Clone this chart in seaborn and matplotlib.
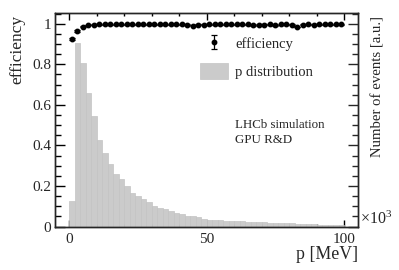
import numpy as np
import pandas as pd
import matplotlib
matplotlib.use("Agg")
import matplotlib.pyplot as plt
import seaborn as sns
from matplotlib.ticker import MultipleLocator

# ---- data ----
bin_edges = list(range(0, 102, 2))
bin_centers = [e + 1 for e in bin_edges[:-1]]
p_distribution = [
    0.125, 0.904, 0.806, 0.658, 0.543, 0.428, 0.364, 0.306, 0.259, 0.233,
    0.200, 0.167, 0.150, 0.134, 0.121, 0.101, 0.090, 0.085, 0.078, 0.068,
    0.062, 0.052, 0.052, 0.048, 0.038, 0.034, 0.032, 0.031, 0.029, 0.028,
    0.027, 0.025, 0.024, 0.022, 0.021, 0.020, 0.019, 0.018, 0.017, 0.016,
    0.015, 0.014, 0.013, 0.012, 0.011, 0.010, 0.010, 0.009, 0.008, 0.007,
]
efficiency = [
    0.924, 0.964, 0.986, 0.994, 0.996, 0.997, 0.997, 0.997, 0.997, 0.997,
    0.997, 0.997, 0.997, 0.997, 0.997, 0.997, 0.997, 0.997, 0.997, 0.997,
    0.997, 0.996, 0.990, 0.995, 0.996, 0.997, 0.997, 0.997, 0.997, 0.998,
    0.997, 0.998, 0.998, 0.992, 0.996, 0.995, 0.997, 0.992, 0.997, 0.998,
    0.996, 0.984, 0.996, 0.997, 0.996, 0.998, 0.998, 0.998, 0.998, 0.998,
]
eff_err = [0.006, 0.004, 0.002, 0.002] + [0.002] * 46

xticks_major = [0, 50, 100]
yticks_major = [0, 0.2, 0.4, 0.6, 0.8, 1]

df_hist = pd.DataFrame({"p": bin_centers, "w": p_distribution})

# ---- style ----
sns.set_style("ticks")
plt.rcParams["font.family"] = ["Liberation Serif", "DejaVu Serif"]
plt.rcParams["mathtext.fontset"] = "custom"
plt.rcParams["mathtext.rm"] = "Liberation Serif"
plt.rcParams["mathtext.it"] = "Liberation Serif:italic"
plt.rcParams["axes.linewidth"] = 1.0

fig = plt.figure(figsize=(3.99, 2.70), dpi=100)
ax = fig.add_axes([0.139, 0.161, 0.758, 0.791])

sns.histplot(data=df_hist, x="p", weights="w", bins=bin_edges, ax=ax,
             color="#cbcbcb", edgecolor="#c3c3c3", linewidth=0.5,
             alpha=1.0, label="p distribution")
eb = ax.errorbar(bin_centers, efficiency, yerr=eff_err, fmt="o", ms=3.2,
                 color="black", ecolor="black", elinewidth=0.9, capsize=2,
                 capthick=0.9, label="efficiency")

ax.set_xlim(-5, 105)
ax.set_ylim(0, 1.053)
ax.set_xticks(xticks_major)
ax.set_xticklabels([str(v) for v in xticks_major])
ax.set_yticks(yticks_major)
ax.set_yticklabels(["0", "0.2", "0.4", "0.6", "0.8", "1"])
ax.xaxis.set_minor_locator(MultipleLocator(10))
ax.yaxis.set_minor_locator(MultipleLocator(0.05))
ax.tick_params(axis="both", which="both", direction="in", top=True,
               labelsize=11, width=1.0, color="black")
ax.tick_params(axis="y", which="major", length=7, pad=3)
ax.tick_params(axis="y", which="minor", length=4)
ax.tick_params(axis="x", which="major", length=4.7, pad=5)
ax.tick_params(axis="x", which="minor", length=2.3)
for s in ax.spines.values():
    s.set_visible(True)
    s.set_linewidth(1.0)

ax.set_ylabel("efficiency", fontsize=12.5, loc="top")
ax.yaxis.set_label_coords(-0.10, 0.99)
ax.set_xlabel("p [MeV]", fontsize=12.8, loc="right")
ax.xaxis.set_label_coords(1.0, -0.093)

ax2 = ax.twinx()
ax2.set_ylim(ax.get_ylim())
ax2.set_yticks(yticks_major)
ax2.set_yticklabels([])
ax2.yaxis.set_minor_locator(MultipleLocator(0.05))
ax2.tick_params(axis="y", which="both", direction="in", width=1.0)
ax2.tick_params(axis="y", which="major", length=7)
ax2.tick_params(axis="y", which="minor", length=4)
ax2.set_ylabel("Number of events [a.u.]", fontsize=10.6, loc="top")
ax2.yaxis.set_label_coords(1.045, 0.985)
ax2.text(1.008, -0.005, r"$\times10^{3}$", transform=ax2.transAxes,
         fontsize=11.5, ha="left", va="bottom")

handles, labels = ax.get_legend_handles_labels()
hmap = dict(zip(labels, handles))
leg = ax.legend([hmap["efficiency"], hmap["p distribution"]],
                ["efficiency", "p distribution"],
                loc="upper left", bbox_to_anchor=(0.478, 0.895),
                frameon=False, fontsize=10.5, handlelength=1.9,
                handleheight=1.3, labelspacing=0.8, handletextpad=0.5,
                borderpad=0, borderaxespad=0)

ax.text(0.595, 0.475, "LHCb simulation", transform=ax.transAxes,
        fontsize=9.3, ha="left", va="center")
ax.text(0.595, 0.405, "GPU R&D", transform=ax.transAxes,
        fontsize=9.3, ha="left", va="center")

fig.savefig("out.png", dpi=100)
